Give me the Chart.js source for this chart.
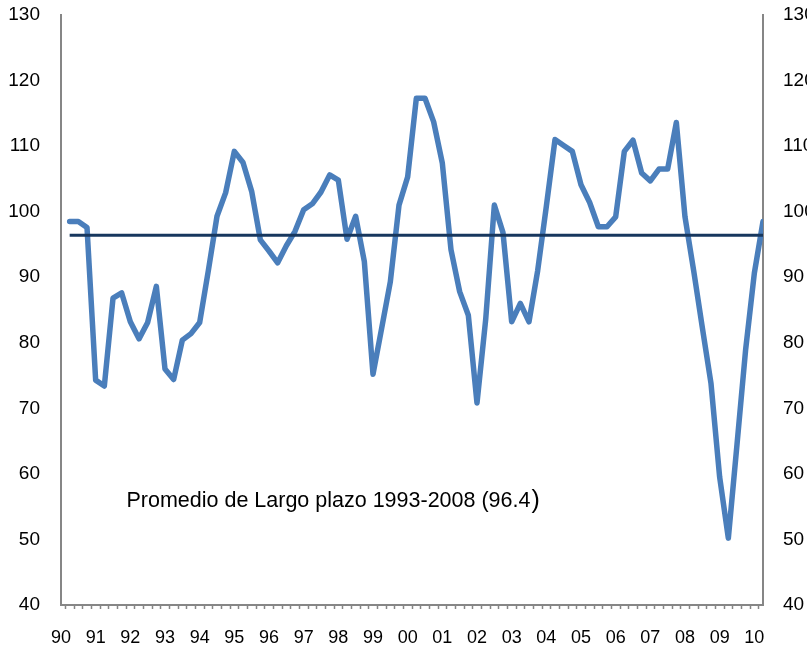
<!DOCTYPE html>
<html>
<head>
<meta charset="utf-8">
<script src="https://cdn.jsdelivr.net/npm/chart.js@4/dist/chart.umd.min.js"></script>
<style>
html,body{margin:0;padding:0;background:#fff;}
#wrap{width:807px;height:646px;}
</style>
</head>
<body>
<div id="wrap"><canvas id="c" width="807" height="646"></canvas></div>
<script>
// Year tick labels (one per year, 1990..2010)
const yearLabels = ['90','91','92','93','94','95','96','97','98','99','00','01','02','03','04','05','06','07','08','09','10'];

// Quarterly index values, 1990Q1 .. 2010Q1
const indexValues = [
  98.5, 98.5, 97.6, 74.3,   // 1990
  73.4, 86.8, 87.6, 83.2,   // 1991
  80.6, 83.1, 88.6, 76.0,   // 1992
  74.4, 80.4, 81.4, 83.1,   // 1993
  91.0, 99.3, 102.9, 109.2, // 1994
  107.5, 103.1, 95.7, 94.0, // 1995
  92.2, 94.8, 97.0, 100.3,  // 1996
  101.2, 103.0, 105.6, 104.8, // 1997
  95.8, 99.3, 92.4, 75.2,   // 1998
  82.2, 89.3, 101.0, 105.3, // 1999
  117.3, 117.3, 113.7, 107.4, // 2000
  94.2, 87.8, 84.2, 70.8,   // 2001
  83.5, 101.0, 96.8, 83.2,  // 2002
  86.0, 83.2, 91.0, 100.8,  // 2003
  111.0, 110.1, 109.2, 104.1, // 2004
  101.4, 97.7, 97.7, 99.2,  // 2005
  109.2, 110.9, 105.9, 104.7, // 2006
  106.5, 106.5, 113.6, 99.2, // 2007
  91.0, 82.3, 73.8, 59.5,   // 2008
  50.2, 64.5, 79.0, 90.6,   // 2009
  98.5                      // 2010
];

// Long-term average 1993-2008
const longTermAverage = 96.4;

// Y-axis ticks
const yTicks = [40, 50, 60, 70, 80, 90, 100, 110, 120, 130];

const annotationText = 'Promedio de Largo plazo 1993-2008 (96.4';
const annotationClose = ')';
const annotationAnchor = { x: 6.55, y: 55.0 };

const FAMILY = '"Liberation Sans", Arial, sans-serif';
const AXIS_GRAY = '#868686';

const seriesPoints = indexValues.map((v, i) => ({ x: i, y: v }));
const averagePoints = indexValues.map((v, i) => ({ x: i, y: longTermAverage }));

const annotationPlugin = {
  id: 'avgLabel',
  afterDatasetsDraw(chart) {
    const { ctx, scales } = chart;
    const px = scales.x.getPixelForValue(annotationAnchor.x);
    const py = scales.y.getPixelForValue(annotationAnchor.y);
    ctx.save();
    ctx.fillStyle = '#000';
    ctx.textAlign = 'left';
    ctx.textBaseline = 'alphabetic';
    ctx.font = '21.5px ' + FAMILY;
    ctx.fillText(annotationText, px, py);
    const w = ctx.measureText(annotationText).width;
    ctx.font = '25px ' + FAMILY;
    ctx.fillText(annotationClose, px + w + 1, py + 1);
    ctx.restore();
  }
};

function yAxis(position, width, gap) {
  return {
    position: position,
    min: 40,
    max: 130,
    afterBuildTicks(s) { s.ticks = yTicks.map(v => ({ value: v })); },
    afterFit(s) { s.width = width; },
    grid: { display: true, drawOnChartArea: false, drawTicks: true, tickLength: gap, tickColor: 'rgba(0,0,0,0)' },
    border: { display: true, color: AXIS_GRAY, width: 2 },
    ticks: { padding: 0, color: '#000', font: { family: FAMILY, size: 19 } }
  };
}

new Chart(document.getElementById('c'), {
  type: 'line',
  data: {
    datasets: [
      {
        label: 'Promedio',
        data: averagePoints,
        borderColor: '#17375E',
        borderWidth: 3,
        pointRadius: 0,
        tension: 0,
        yAxisID: 'y'
      },
      {
        label: 'Indice',
        data: seriesPoints,
        borderColor: '#4A7EBB',
        borderWidth: 5.5,
        borderJoinStyle: 'round',
        borderCapStyle: 'round',
        pointRadius: 0,
        tension: 0,
        yAxisID: 'y'
      }
    ]
  },
  options: {
    responsive: false,
    animation: false,
    devicePixelRatio: 1,
    layout: { padding: { top: 15, left: 0, right: 0, bottom: 0 } },
    plugins: { legend: { display: false }, tooltip: { enabled: false } },
    scales: {
      x: {
        type: 'linear',
        min: -1,
        max: 80,
        afterBuildTicks(scale) {
          const t = [];
          yearLabels.forEach((_, k) => t.push({ value: 4 * k - 1 }));
          for (let q = -0.5; q < 80; q += 1) t.push({ value: q });
          t.sort((a, b) => a.value - b.value);
          scale.ticks = t;
        },
        afterFit(scale) { scale.height = 41; },
        grid: {
          display: true,
          drawOnChartArea: false,
          drawTicks: true,
          tickLength: 4,
          tickWidth: 1.5,
          tickColor: (ctx) => (ctx.tick && Number.isInteger(ctx.tick.value)) ? 'rgba(0,0,0,0)' : AXIS_GRAY
        },
        border: { display: true, color: AXIS_GRAY, width: 2 },
        ticks: {
          autoSkip: false,
          maxRotation: 0,
          minRotation: 0,
          padding: 18,
          color: '#000',
          font: { family: FAMILY, size: 18 },
          callback: (v) => Number.isInteger(v) ? yearLabels[(v + 1) / 4] : ''
        }
      },
      y: yAxis('left', 61, 21),
      y2: yAxis('right', 44, 20)
    }
  },
  plugins: [annotationPlugin]
});
</script>
</body>
</html>
